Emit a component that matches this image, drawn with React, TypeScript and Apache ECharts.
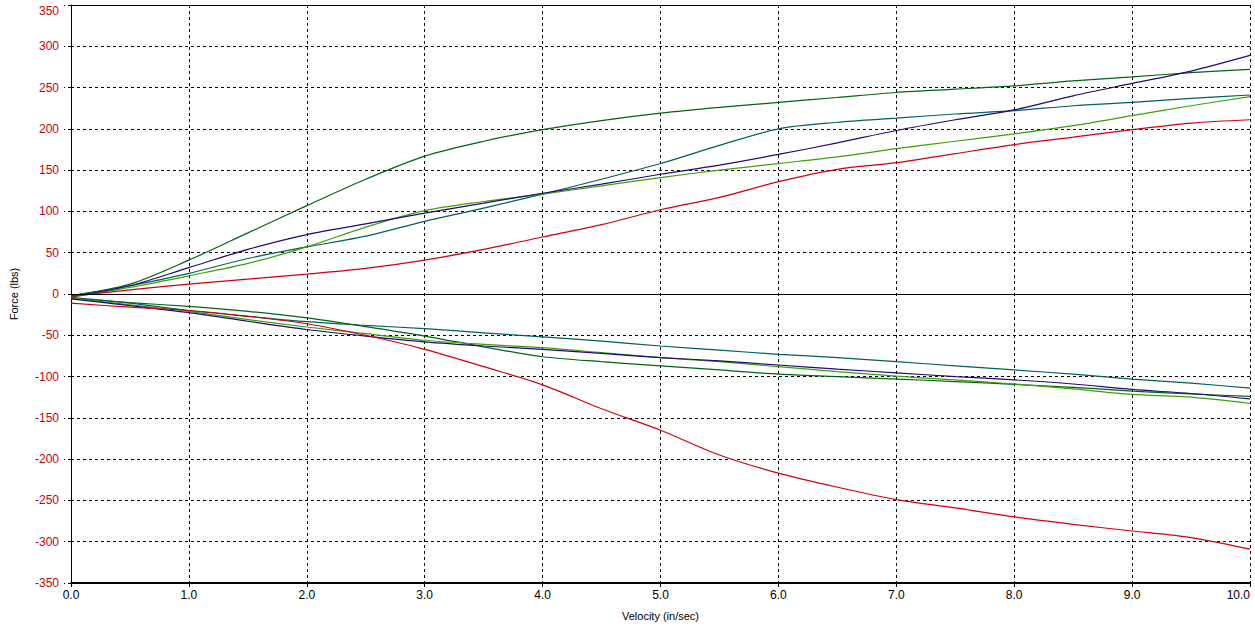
import React, { useEffect, useRef } from "react";
import * as echarts from "echarts";

const velocity = [0, 0.5, 1, 1.5, 2, 2.5, 3, 3.5, 4, 4.5, 5, 5.5, 6, 6.5, 7, 7.5, 8, 8.5, 9, 9.5, 10];

// Extension (positive) curves
const darkGreenUp = [-2, 12, 41, 74, 107, 139, 167, 185, 199, 210, 219, 226, 232, 238, 244, 248, 252, 258, 263, 268, 272];
const navyUp = [-3, 10, 32, 54, 72, 85, 98, 110, 122, 133, 145, 156, 169, 183, 198, 211, 223, 240, 255, 270, 289];
const tealUp = [-2, 10, 25, 43, 57, 70, 88, 104, 121, 139, 158, 180, 200, 208, 213, 218, 222, 228, 232, 237, 241];
const lightGreenUp = [-4, 8, 22, 37, 57, 81, 101, 112, 121, 131, 141, 150, 158, 166, 176, 185, 194, 204, 216, 228, 239];
const redUp = [-3, 5, 12, 18, 24, 31, 41, 54, 69, 84, 102, 117, 136, 151, 159, 170, 181, 190, 199, 207, 211];

// Compression (negative) curves
const redDown = [-11, -16, -20, -27, -36, -50, -67, -88, -110, -139, -165, -195, -217, -234, -249, -259, -270, -279, -287, -295, -309];
const darkGreenDown = [-5, -10.5, -15, -21, -29, -39.6, -51, -64, -76, -82, -87, -92, -97, -100, -103, -106, -109.5, -113, -117.6, -121, -124];
const tealDown = [-4, -11, -20, -27, -33.5, -38, -42, -47, -52, -57, -63, -68, -73, -77, -82, -87, -92, -97, -103, -108, -114];
const navyDown = [-6, -14, -22.6, -33, -43, -51, -58, -63, -67, -72, -77, -81, -86, -91, -95.5, -100, -104, -109, -115.6, -120.5, -127];
const lightGreenDown = [-5, -13, -21, -31, -40, -48, -56, -61, -65, -71, -77, -82, -88, -94, -99.5, -104, -109, -115, -121.6, -125, -132.6];

const COLORS = {
  darkGreen: "#006414",
  navy: "#1e0a78",
  teal: "#00605c",
  lightGreen: "#3ca00a",
  red: "#d0000c",
};

const curves: { name: string; color: string; values: number[] }[] = [
  { name: "Dark green ext", color: COLORS.darkGreen, values: darkGreenUp },
  { name: "Teal ext", color: COLORS.teal, values: tealUp },
  { name: "Light green ext", color: COLORS.lightGreen, values: lightGreenUp },
  { name: "Navy ext", color: COLORS.navy, values: navyUp },
  { name: "Red ext", color: COLORS.red, values: redUp },
  { name: "Teal comp", color: COLORS.teal, values: tealDown },
  { name: "Dark green comp", color: COLORS.darkGreen, values: darkGreenDown },
  { name: "Light green comp", color: COLORS.lightGreen, values: lightGreenDown },
  { name: "Navy comp", color: COLORS.navy, values: navyDown },
  { name: "Red comp", color: COLORS.red, values: redDown },
];

const FONT = "Liberation Sans";

export default function App() {
  const ref = useRef<HTMLDivElement>(null);

  useEffect(() => {
    if (!ref.current) return;
    const chart = echarts.init(ref.current, null, { renderer: "svg" });

    const series: any[] = curves.map((c, i) => ({
      name: c.name,
      type: "line",
      data: velocity.map((v, j) => [v, c.values[j]]),
      showSymbol: false,
      symbol: "none",
      smooth: 0.3,
      lineStyle: { color: c.color, width: 1.2 },
      itemStyle: { color: c.color },
      z: 3,
      ...(i === 0
        ? {
            markLine: {
              silent: true,
              symbol: "none",
              label: { show: false },
              lineStyle: { color: "#000", type: "solid", width: 1 },
              data: [{ yAxis: 0 }],
            },
          }
        : {}),
    }));

    chart.setOption({
      animation: false,
      backgroundColor: "#fff",
      grid: {
        left: 71,
        right: 5,
        top: 5,
        bottom: 48,
        containLabel: false,
        outerBoundsMode: "none",
      },
      xAxis: [
        {
          type: "value",
          min: 0,
          max: 10,
          interval: 1,
          position: "bottom",
          name: "Velocity (in/sec)",
          nameLocation: "middle",
          nameGap: 27,
          nameTextStyle: { color: "#000", fontFamily: FONT, fontSize: 11 },
          axisLine: { show: true, onZero: false, lineStyle: { color: "#000", width: 2 } },
          axisTick: { show: true, length: 4, lineStyle: { color: "#000" } },
          axisLabel: {
            color: "#000",
            fontFamily: FONT,
            fontSize: 12,
            margin: 6,
            alignMaxLabel: "right",
            formatter: (v: number) => v.toFixed(1),
          },
          splitLine: { show: true, lineStyle: { color: "#000", type: [3, 3], width: 1 } },
        },
        {
          type: "value",
          min: 0,
          max: 10,
          interval: 1,
          position: "top",
          axisLine: { show: true, onZero: false, lineStyle: { color: "#000", width: 1 } },
          axisTick: { show: false },
          axisLabel: { show: false },
          splitLine: { show: false },
        },
      ],
      yAxis: {
        type: "value",
        min: -350,
        max: 350,
        interval: 50,
        name: "Force (lbs)",
        nameLocation: "middle",
        nameRotate: 90,
        nameGap: 52,
        nameTextStyle: { color: "#000", fontFamily: FONT, fontSize: 11 },
        axisLine: { show: true, onZero: false, lineStyle: { color: "#000", width: 1 } },
        axisTick: { show: true, length: 7, lineStyle: { color: "#000", type: [3, 3] } },
        axisLabel: {
          color: "#c8000c",
          fontFamily: FONT,
          fontSize: 12,
          margin: 12,
          verticalAlignMaxLabel: "top",
        },
        splitLine: { show: true, lineStyle: { color: "#000", type: [3, 3], width: 1 } },
      },
      series,
    });

    return () => chart.dispose();
  }, []);

  return (
    <div
      ref={ref}
      style={{ position: "fixed", left: 0, top: 0, width: 1255, height: 631, background: "#fff" }}
    />
  );
}
